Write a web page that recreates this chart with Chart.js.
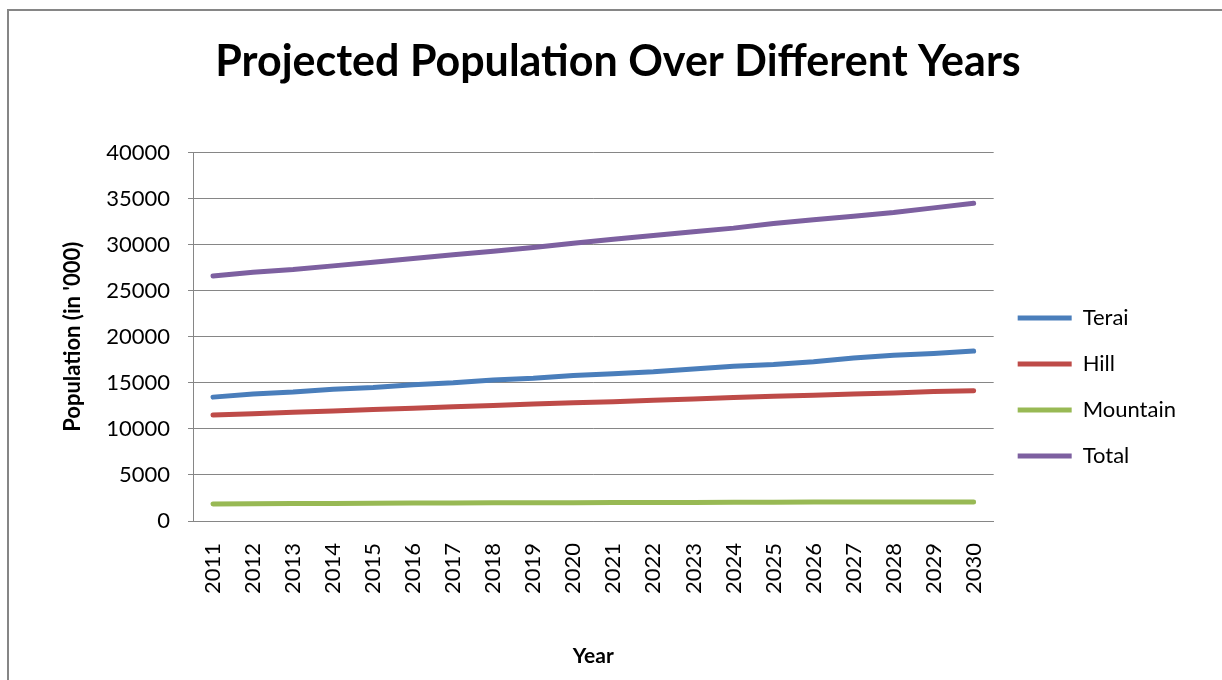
<!DOCTYPE html>
<html>
<head>
<meta charset="utf-8">
<script src="https://cdn.jsdelivr.net/npm/chart.js@4"></script>
<style>
  html, body { margin: 0; padding: 0; background: #fff; }
  #wrap { width: 1222px; height: 680px; }
</style>
</head>
<body>
<div id="wrap"><canvas id="myChart" width="1222" height="680"></canvas></div>
<script>
// projected population, thousands
const years = ['2011', '2012', '2013', '2014', '2015', '2016', '2017', '2018', '2019', '2020',
  '2021', '2022', '2023', '2024', '2025', '2026', '2027', '2028', '2029', '2030'];
const terai = [13450, 13800, 14000, 14300, 14500, 14800, 15000, 15300, 15500, 15800,
  16000, 16200, 16500, 16800, 17000, 17300, 17700, 18000, 18200, 18450];
const hill = [11500, 11650, 11800, 11950, 12100, 12250, 12400, 12550, 12700, 12850,
  12950, 13100, 13250, 13400, 13550, 13650, 13800, 13900, 14050, 14150];
const mountain = [1850, 1870, 1890, 1910, 1930, 1950, 1960, 1970, 1980, 1990,
  2000, 2010, 2020, 2030, 2040, 2050, 2055, 2060, 2065, 2070];
const total = [26600, 27000, 27300, 27700, 28100, 28500, 28900, 29300, 29700, 30150,
  30600, 31000, 31400, 31800, 32300, 32700, 33100, 33500, 34000, 34500];

const FONT = 'Lato, "Open Sans", sans-serif';
const GRID = '#868686';

const series = [
  { label: 'Terai', data: terai, color: '#4a7ebb' },
  { label: 'Hill', data: hill, color: '#be4b48' },
  { label: 'Mountain', data: mountain, color: '#98b954' },
  { label: 'Total', data: total, color: '#7d60a0' },
];

// thin grey frame on top and left, like the original picture
const frame = {
  id: 'frame',
  afterDraw: (chart) => {
    const ctx = chart.ctx;
    ctx.save();
    ctx.strokeStyle = GRID;
    ctx.lineWidth = 2;
    ctx.beginPath();
    ctx.moveTo(8, 680);
    ctx.lineTo(8, 10);
    ctx.lineTo(1222, 10);
    ctx.stroke();
    ctx.restore();
  }
};

const drawChart = () => {
  const chartEl = document.getElementById('myChart');
  new Chart(chartEl, {
    type: 'line',
    data: {
      labels: years,
      datasets: series.map(s => ({
        label: s.label,
        data: s.data,
        borderColor: s.color,
        backgroundColor: s.color,
        borderWidth: 5,
        borderCapStyle: 'round',
        pointRadius: 0,
        tension: 0,
      }))
    },
    plugins: [frame],
    options: {
      responsive: false,
      animation: false,
      devicePixelRatio: 1,
      layout: { padding: { left: 50, right: 36, top: 10, bottom: 10 } },
      plugins: {
        title: {
          display: true,
          text: 'Projected Population Over Different Years',
          color: '#000',
          font: { family: FONT, size: 43, weight: 'bold' },
          padding: { top: 26, bottom: 65 }
        },
        legend: {
          position: 'right',
          // empty title only pushes the entries down a bit
          title: { display: true, text: '', font: { size: 10, lineHeight: 1 }, padding: { top: 84, bottom: 0 } },
          labels: {
            color: '#000',
            font: { family: FONT, size: 22 },
            boxWidth: 54,
            boxHeight: 5,
            padding: 24,
            generateLabels: (chart) => Chart.defaults.plugins.legend.labels.generateLabels(chart)
              .map(item => ({ ...item, lineWidth: 0 }))
          }
        },
        tooltip: { enabled: false }
      },
      scales: {
        x: {
          offset: true,
          grid: { display: false, drawTicks: false },
          border: { display: true, color: GRID, width: 1 },
          ticks: {
            color: '#000',
            font: { family: FONT, size: 22 },
            minRotation: 90,
            maxRotation: 90,
            padding: 22
          },
          title: {
            display: true,
            text: 'Year',
            color: '#000',
            font: { family: FONT, size: 21, weight: 'bold' },
            padding: { top: 0, bottom: 1 }
          },
          afterFit: (scale) => { scale.height = 149; }
        },
        y: {
          min: 0,
          max: 40000,
          grid: { color: GRID, lineWidth: 1, tickLength: 5 },
          border: { display: true, color: GRID, width: 1 },
          ticks: {
            stepSize: 5000,
            color: '#000',
            font: { family: FONT, size: 22 },
            padding: 18,
            callback: (v) => String(v)
          },
          title: {
            display: true,
            text: "Population (in '000)",
            color: '#000',
            font: { family: FONT, size: 22, weight: 'bold' },
            padding: { top: 10, bottom: 0 }
          },
          afterFit: (scale) => { scale.width = 143; }
        }
      }
    }
  });
}

drawChart();
</script>
</body>
</html>
